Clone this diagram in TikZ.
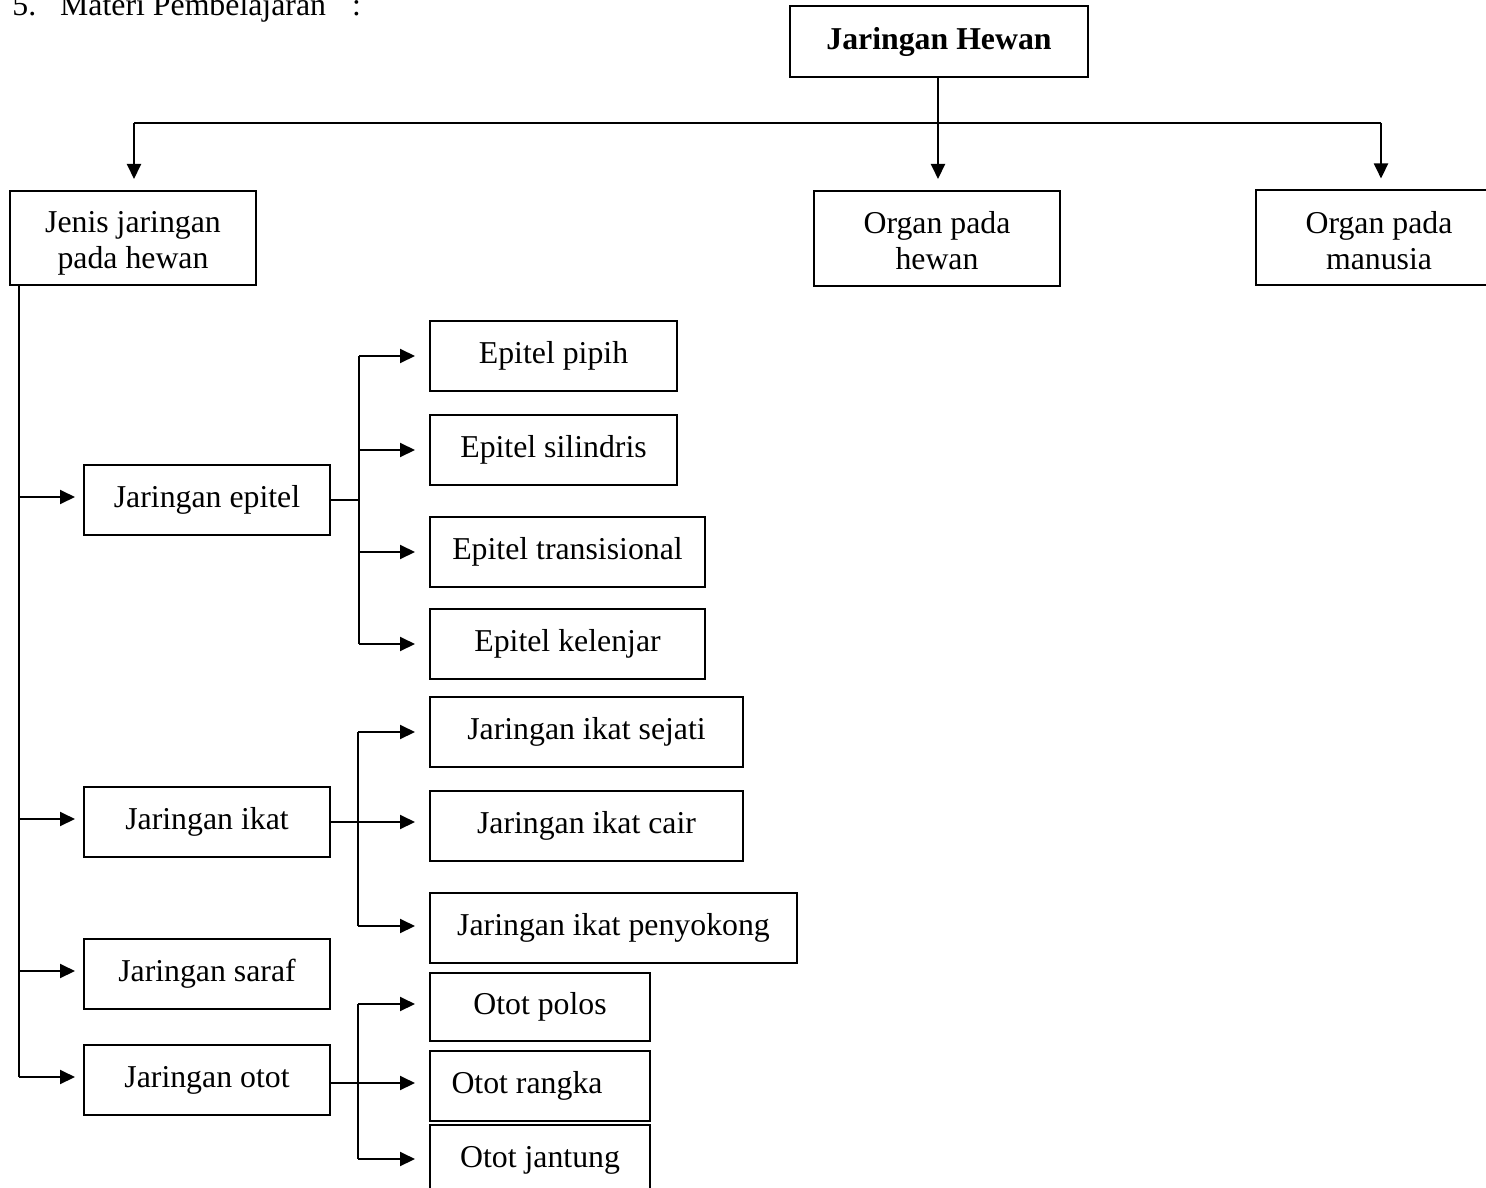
\documentclass[tikz,border=0pt]{standalone}
\usepackage{fontspec}
\setmainfont{Liberation Serif}
\usetikzlibrary{arrows.meta}
\begin{document}
\begin{tikzpicture}[x=0.5pt,y=-0.5pt,
  txt/.style={font=\fontsize{15.9}{18}\selectfont},
  box/.style={draw,line width=1pt,rectangle,inner sep=0pt,align=center,txt},
  ln/.style={line width=1pt},
  arr/.style={line width=1pt,-{Triangle[length=7.5pt,width=7pt]}},
  arrS/.style={arr,shorten >=5.5pt},
  arrL/.style={arr,shorten >=4pt},
  arrB/.style={arr,shorten >=7pt}]
\clip (0,0) rectangle (1486,1187);
\node[txt,anchor=base west,inner sep=0pt] (title) at (12,16) {5.\hspace{12pt}Materi Pembelajaran\hspace{13pt}:};

% top level
\node[box,minimum width=149pt,minimum height=35.5pt,font=\fontsize{15.9}{18}\selectfont\bfseries] (top) at (939,41.5) {Jaringan Hewan};
\node[box,minimum width=123pt,minimum height=47pt] (jenis) at (133,238) {};
\node[txt,align=center,inner sep=0pt] (jenisT) at ([yshift=-2.6pt]jenis.center) {Jenis jaringan\\pada hewan};
\node[box,minimum width=123pt,minimum height=47.5pt] (organH) at (937,238.5) {};
\node[txt,align=center,inner sep=0pt] (organHT) at ([yshift=-1.2pt]organH.center) {Organ pada\\hewan};
\node[box,minimum width=123pt,minimum height=47.5pt] (organM) at (1379,238) {};
\node[txt,align=center,inner sep=0pt] (organMT) at ([yshift=-1.2pt]organM.center) {Organ pada\\manusia};

% second level
\node[box,minimum width=123pt,minimum height=35pt] (epitel) at (207,500) {Jaringan epitel};
\node[box,minimum width=123pt,minimum height=35pt] (ikat) at (207,822) {Jaringan ikat};
\node[box,minimum width=123pt,minimum height=35pt] (saraf) at (207,974) {Jaringan saraf};
\node[box,minimum width=123pt,minimum height=35pt] (otot) at (207,1080) {Jaringan otot};

% third level
\node[box,minimum width=123.5pt,minimum height=35pt] (pipih) at (553.5,356) {Epitel pipih};
\node[box,minimum width=123.5pt,minimum height=35pt] (silindris) at (553.5,450) {Epitel silindris};
\node[box,minimum width=137.5pt,minimum height=35pt] (trans) at (567.5,552) {Epitel transisional};
\node[box,minimum width=137.5pt,minimum height=35pt] (kelenjar) at (567.5,644) {Epitel kelenjar};
\node[box,minimum width=156.5pt,minimum height=35pt] (sejati) at (586.5,732) {Jaringan ikat sejati};
\node[box,minimum width=156.5pt,minimum height=35pt] (cair) at (586.5,826) {Jaringan ikat cair};
\node[box,minimum width=183.5pt,minimum height=35pt] (penyokong) at (613.5,928) {Jaringan ikat penyokong};
\node[box,minimum width=110pt,minimum height=34pt] (polos) at (540,1007) {Otot polos};
\node[box,minimum width=110pt,minimum height=35pt] (rangka) at (540,1086) {Otot rangka\hspace{13pt}\null};
\node[box,minimum width=110pt,minimum height=35pt] (jantung) at (540,1160) {Otot jantung};

% top connectors
\coordinate (hub) at (938,123);
\coordinate (hL) at (134,123);
\coordinate (hR) at (1381,123);
\draw[ln] (top.south -| hub) -- (hub);
\draw[ln] (hL) -- (hR);
\draw[arrS] (hL) -- (hL |- jenis.north);
\draw[arrS] (hub) -- (hub |- organH.north);
\draw[arrS] (hR) -- (hR |- organM.north);

% left spine
\coordinate (sTop) at (19,285);
\coordinate (s1) at (19,497);
\coordinate (s2) at (19,819);
\coordinate (s3) at (19,971);
\coordinate (s4) at (19,1077);
\draw[ln] (sTop) -- (s4);
\draw[arrL] (s1) -- (s1 -| epitel.west);
\draw[arrL] (s2) -- (s2 -| ikat.west);
\draw[arrL] (s3) -- (s3 -| saraf.west);
\draw[arrL] (s4) -- (s4 -| otot.west);

% epitel branch
\coordinate (e0) at (359,356);
\coordinate (eM) at (359,500);
\coordinate (e3) at (359,644);
\draw[ln] (e0) -- (e3);
\draw[ln] (epitel.east) -- (eM);
\draw[arrB] (e0) -- (pipih.west);
\draw[arrB] (e0 |- silindris.west) -- (silindris.west);
\draw[arrB] (e0 |- trans.west) -- (trans.west);
\draw[arrB] (e3) -- (kelenjar.west);

% ikat branch
\coordinate (i0) at (358,732);
\coordinate (iM) at (358,822);
\coordinate (i2) at (358,926);
\draw[ln] (i0) -- (i2);
\draw[ln] (ikat.east) -- (iM);
\draw[arrB] (i0) -- (sejati.west |- i0);
\draw[arrB] (iM) -- (cair.west |- iM);
\draw[arrB] (i2) -- (penyokong.west |- i2);

% otot branch
\coordinate (o0) at (358,1004);
\coordinate (oM) at (358,1083);
\coordinate (o2) at (358,1159);
\draw[ln] (o0) -- (o2);
\draw[ln] (otot.east |- oM) -- (oM);
\draw[arrB] (o0) -- (polos.west |- o0);
\draw[arrB] (oM) -- (rangka.west |- oM);
\draw[arrB] (o2) -- (jantung.west |- o2);
\end{tikzpicture}
\end{document}
